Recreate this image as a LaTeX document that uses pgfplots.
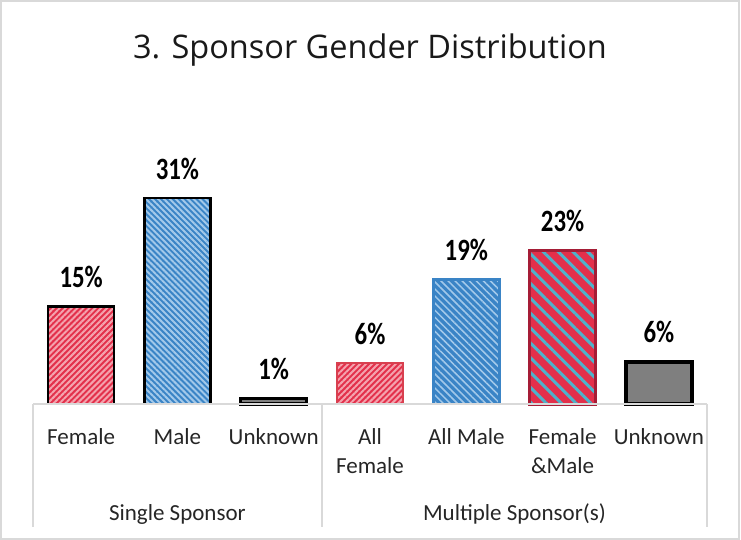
\documentclass[border=0pt]{standalone}
\usepackage{pgfplots}
\pgfplotsset{compat=1.18}
\usepackage{fontspec}
\setmainfont{Carlito}
\newfontfamily\titlefont{Open Sans}
\newfontfamily\labfont[FakeStretch=0.8]{Carlito}
\usetikzlibrary{patterns.meta}

\definecolor{redA}{HTML}{E3304B}
\definecolor{pinkA}{HTML}{F4A3AE}
\definecolor{blueA}{HTML}{3A84C6}
\definecolor{blueL}{HTML}{A3C9EA}
\definecolor{cyanA}{HTML}{4DB3CB}
\definecolor{redD}{HTML}{A51D36}
\definecolor{redB}{HTML}{D8404F}
\definecolor{grayA}{HTML}{7F7F7F}
\definecolor{frameC}{HTML}{D9D9D9}

\pgfplotsset{
  lab/.style={nodes near coords={\pgfmathprintnumber[fixed,precision=0,assume math mode=true]{\pgfplotspointmeta}\%}},
}

\begin{document}
\begin{tikzpicture}
% page = image area (741 x 540)
\path (-33bp,-136bp) rectangle (708bp,404bp);
\draw[frameC, line width=1.5bp] (-32bp,-135bp) rectangle (706bp,403bp);

\begin{axis}[
    at={(0,0)}, anchor=south west,
    scale only axis,
    width=674bp, height=303.6bp,
    xmin=-0.5, xmax=6.5, ymin=0, ymax=46,
    ybar, bar width=66bp, bar shift=0pt,
    axis line style={draw=none},
    ytick=\empty,
    xtick={0,...,6},
    major tick length=0pt,
    % every label has two lines, so the last-line baseline is the same for all
    xticklabels={{Female\\{}},{Male\\{}},{Unknown\\{}},{All\\Female},{All Male\\{}},{Female\\\&Male},{Unknown\\{}}},
    xticklabel style={font=\fontsize{23bp}{29bp}\selectfont, align=center,
      anchor=base, yshift=-69.5bp, text=black!85},
    point meta=y,
    every node near coord/.append style={font=\labfont\bfseries\fontsize{31bp}{31bp}\selectfont,
      anchor=base, yshift=19bp, inner sep=0pt, text=black},
    clip=false,
]
% Single sponsor
\addplot[fill=redA, draw=none] coordinates {(0,14.8)};
\addplot[pattern={Lines[angle=45,distance=4.2bp,line width=2bp]}, pattern color=pinkA,
  draw=black, line width=2.5bp, lab] coordinates {(0,14.8)};
\addplot[fill=blueA, draw=none] coordinates {(1,31.2)};
\addplot[pattern={Lines[angle=-45,distance=4.2bp,line width=2bp]}, pattern color=blueL,
  draw=black, line width=2.5bp, lab] coordinates {(1,31.2)};
\addplot[fill=grayA, draw=black, line width=3.5bp, lab] coordinates {(2,0.8)};
% Multiple sponsors
\addplot[fill=redA, draw=none] coordinates {(3,6.2)};
\addplot[pattern={Lines[angle=45,distance=4.2bp,line width=2bp]}, pattern color=pinkA,
  draw=redB, line width=2bp, lab] coordinates {(3,6.2)};
\addplot[fill=blueA, draw=none] coordinates {(4,18.9)};
\addplot[pattern={Lines[angle=-45,distance=5bp,line width=1.5bp]}, pattern color=blueL,
  draw=blueA, line width=2.5bp, lab] coordinates {(4,18.9)};
\addplot[fill=redA, draw=none] coordinates {(5,23.3)};
\addplot[pattern={Lines[angle=-45,distance=10.5bp,line width=3bp]}, pattern color=cyanA,
  draw=redD, line width=3bp, lab] coordinates {(5,23.3)};
\addplot[fill=grayA, draw=black, line width=4.5bp, lab] coordinates {(6,6.4)};

\coordinate (b0) at (axis cs:-0.5,0);
\coordinate (b1) at (axis cs:2.5,0);
\coordinate (b2) at (axis cs:6.5,0);
\coordinate (g1) at (axis cs:1,0);
\coordinate (g2) at (axis cs:4.5,0);
\end{axis}

% category box lines
\draw[frameC, line width=1.5bp] (b0) -- (b2);
\foreach \c in {b0,b1,b2}
  \draw[frameC, line width=1.5bp] (\c) -- ([yshift=-123bp]\c);
\node[anchor=base, yshift=-116.5bp, font=\fontsize{23bp}{29bp}\selectfont, text=black!85]
  at (g1) {Single Sponsor};
\node[anchor=base, yshift=-116.5bp, font=\fontsize{23bp}{29bp}\selectfont, text=black!85]
  at (g2) {Multiple Sponsor(s)};

\node[anchor=base, font=\titlefont\fontsize{32.5bp}{38bp}\selectfont, text=black!90]
  at (337bp,345bp) {3. Sponsor Gender Distribution};
\end{tikzpicture}
\end{document}
